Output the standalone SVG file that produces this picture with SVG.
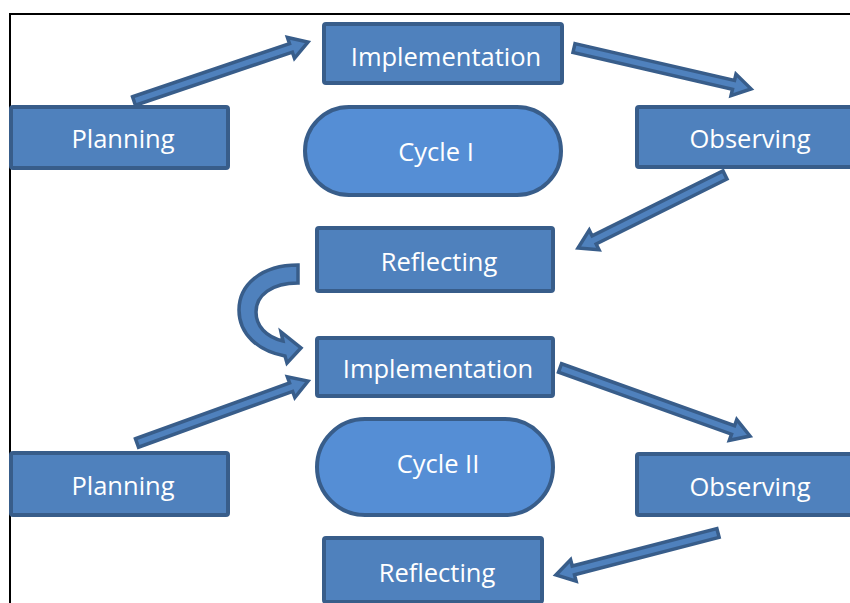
<svg xmlns="http://www.w3.org/2000/svg" width="850" height="603" viewBox="0 0 850 603">
  <defs>
    <style>
      .box { fill: #4F81BD; stroke: #385D8A; stroke-width: 4; }
      .cycle { fill: #558ED5; stroke: #385D8A; stroke-width: 4; }
      .lbl { fill: #FFFFFF; font-family: "Open Sans", "Noto Sans", sans-serif; font-size: 25.5px; text-anchor: middle; }
      .arrow { fill: #4F81BD; stroke: #385D8A; stroke-width: 3.5; stroke-linejoin: miter; }
      .frame { fill: none; stroke: #000000; stroke-width: 2; }
    </style>
  </defs>

  <rect width="850" height="603" fill="#FFFFFF"/>
  <path class="frame" d="M10,603 V14 H850"/>

  <!-- connectors -->
  <g id="connectors">
    <path class="arrow" transform="translate(134,101) rotate(-18.7)" d="M0,-4.5 H165.7 V-11 L183.7,0 L165.7,11 V4.5 H0 Z"/>
    <path class="arrow" transform="translate(574,48) rotate(13)" d="M0,-4.5 H163.7 V-11 L181.7,0 L163.7,11 V4.5 H0 Z"/>
    <path class="arrow" transform="translate(725,175) rotate(153.6)" d="M0,-4.5 H146.1 V-11 L164.1,0 L146.1,11 V4.5 H0 Z"/>
    <path class="arrow" d="M298,265 C261,265 239,285 239,310 C239,334 258,351 285,356 L287,363 L301,348 L281,332 L283,341 C266,337 256,326 256,312 C256,295 272,283 298,283 Z"/>
    <path class="arrow" transform="translate(137,443) rotate(-19.9)" d="M0,-4.5 H163.9 V-11 L181.9,0 L163.9,11 V4.5 H0 Z"/>
    <path class="arrow" transform="translate(560,368) rotate(19.7)" d="M0,-4.5 H183.8 V-11 L201.8,0 L183.8,11 V4.5 H0 Z"/>
    <path class="arrow" transform="translate(718,533) rotate(165.5)" d="M0,-4.5 H149.4 V-11 L167.4,0 L149.4,11 V4.5 H0 Z"/>
  </g>

  <!-- cycle I -->
  <g id="planning1">
    <rect class="box" x="11" y="107" width="217" height="61" rx="2"/>
    <text class="lbl" x="123" y="148">Planning</text>
  </g>
  <g id="implementation1">
    <rect class="box" x="324" y="24" width="238" height="59" rx="2"/>
    <text class="lbl" x="446" y="66">Implementation</text>
  </g>
  <g id="cycle1">
    <rect class="cycle" x="305" y="107" width="256" height="88" rx="44"/>
    <text class="lbl" x="436" y="161">Cycle I</text>
  </g>
  <g id="observing1">
    <rect class="box" x="637" y="107" width="225" height="60" rx="2"/>
    <text class="lbl" x="750" y="148">Observing</text>
  </g>
  <g id="reflecting1">
    <rect class="box" x="317" y="228" width="236" height="63" rx="2"/>
    <text class="lbl" x="439" y="271">Reflecting</text>
  </g>

  <!-- cycle II -->
  <g id="implementation2">
    <rect class="box" x="317" y="338" width="236" height="58" rx="2"/>
    <text class="lbl" x="438" y="378">Implementation</text>
  </g>
  <g id="planning2">
    <rect class="box" x="11" y="453" width="217" height="62" rx="2"/>
    <text class="lbl" x="123" y="495">Planning</text>
  </g>
  <g id="cycle2">
    <rect class="cycle" x="317" y="419" width="236" height="96" rx="48"/>
    <text class="lbl" x="438" y="473">Cycle II</text>
  </g>
  <g id="observing2">
    <rect class="box" x="637" y="454" width="225" height="61" rx="2"/>
    <text class="lbl" x="750" y="496">Observing</text>
  </g>
  <g id="reflecting2">
    <rect class="box" x="324" y="538" width="218" height="64" rx="2"/>
    <text class="lbl" x="437" y="582">Reflecting</text>
  </g>
</svg>
